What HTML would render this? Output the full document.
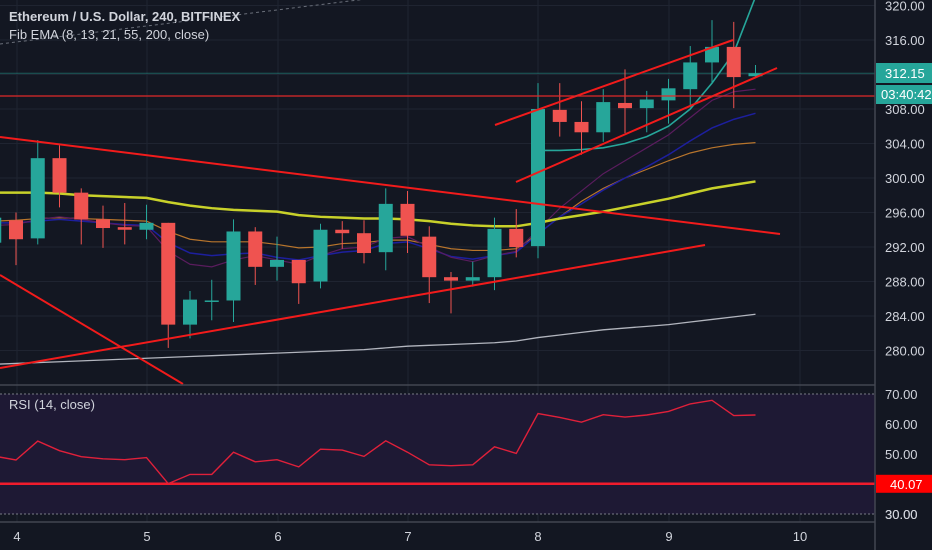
<!DOCTYPE html>
<html><head><meta charset="utf-8"><style>
body{margin:0;background:#131722;width:932px;height:550px;overflow:hidden;font-family:"Liberation Sans",sans-serif}
svg{display:block}
</style></head><body>
<svg id="c" width="932" height="550">
<rect x="0" y="0" width="932" height="550" fill="#131722"/>
<g id="grid"></g>
<rect x="0" y="394" width="875" height="120" fill="#1e1934"/>
<g id="main"></g>
<g id="rsi"></g>
<g id="axes"></g>
</svg>
<script>
const dates=["4","5","6","7","8","9","10"];
const dateX=[17,147,278,408,538,669,800];
const priceTicks=[320,316,308,304,300,296,292,288,284,280];
const rsiTicks=[70,60,50,30];
const opens=[292.5,295.1,293.0,302.3,298.3,295.2,294.3,294.0,294.8,283.0,285.8,285.8,293.8,289.7,290.5,288.0,294.0,293.6,291.4,297.0,293.2,288.5,288.1,288.5,294.1,292.1,307.9,306.5,305.3,308.7,308.1,309.0,310.3,313.4,315.2,311.8];
const closes=[295.4,292.9,302.3,298.3,295.2,294.2,294.0,294.8,283.0,285.9,285.8,293.8,289.7,290.5,287.8,294.0,293.6,291.3,297.0,293.3,288.5,288.1,288.5,294.1,292.0,308.0,306.5,305.3,308.8,308.1,309.1,310.4,313.4,315.2,311.7,312.15];
const highs=[296.5,296.0,304.4,303.8,298.8,296.8,297.1,296.9,294.8,286.9,288.2,295.2,294.3,293.2,290.5,294.7,295.0,295.1,298.8,298.5,294.4,289.1,290.3,295.4,296.4,311.0,311.0,308.9,310.3,312.6,310.1,311.5,315.3,318.3,318.1,313.1];
const lows=[291.5,289.9,292.3,296.6,292.3,291.9,292.3,292.9,280.3,281.4,283.5,283.3,287.6,288.1,285.4,287.2,291.8,290.1,289.3,291.3,285.5,284.3,287.4,287.0,290.8,290.7,304.8,302.7,304.2,305.2,305.3,306.3,308.2,311.0,308.1,311.7];
const ema8=[294.5,294.6,295.2,295.5,295.2,294.8,294.5,294.4,291.5,290,289.7,290.5,291,290.5,290,291,291.8,292,293,293.2,292,290.8,290.3,291,291.5,294,296.5,298.5,300.5,302,303.5,305,307,309,310,310.3];
const ema13=[294.8,294.8,295,295.2,295,294.8,294.6,294.5,292.5,291.3,291,291.2,291.3,290.8,290.5,291,291.4,291.6,292.4,292.6,291.8,290.9,290.6,291,291.4,293.5,295.5,297,298.6,300,301.3,302.7,304.3,305.8,306.8,307.5];
const ema21=[295,295.1,295.3,295.4,295.3,295.2,295.1,295.0,293.8,292.9,292.6,292.6,292.6,292.3,291.9,292.0,292.4,292.5,292.8,292.8,292.3,291.8,291.6,291.6,291.8,293.5,295.5,297.3,298.8,300.0,301.0,302.0,302.9,303.5,303.9,304.1];
const ema55=[298.3,298.3,298.3,298.2,298.0,297.9,297.8,297.7,297.2,296.8,296.5,296.3,296.2,296.1,295.7,295.5,295.4,295.3,295.3,295.2,295.0,294.7,294.5,294.4,294.4,294.8,295.3,295.7,296.1,296.6,297.1,297.6,298.2,298.8,299.2,299.6];
const ema200=[278.4,278.5,278.6,278.7,278.8,278.9,279.0,279.1,279.2,279.3,279.4,279.5,279.6,279.7,279.8,279.9,280.0,280.1,280.3,280.5,280.6,280.7,280.8,280.9,281.1,281.5,281.8,282.1,282.4,282.6,282.8,283.0,283.3,283.6,283.9,284.2];
const tealStart=25;
const emaTeal=[303.2,303.2,303.3,303.5,304,304.8,306,308,311,314.5,321];
const rsiVals=[49.3,48,54.3,51.1,49.1,48.4,48.1,48.8,40.1,43.2,43.2,50.6,47.4,48.1,45.7,51.6,51.3,49.2,54.4,50.6,46.4,46.1,46.4,52.4,50.2,63.5,62.2,60.6,63.1,62.3,63,64.2,66.7,67.9,62.8,63.0];
const NS="http://www.w3.org/2000/svg";
const py=p=>40+(316-p)*8.625;
const cx=k=>-5.75+k*21.75;
const ry=v=>394+(70-v)*3;
function mk(parent,tag,attrs){const e=document.createElementNS(NS,tag);for(const k in attrs)e.setAttribute(k,attrs[k]);parent.appendChild(e);return e;}
const G=document.getElementById('grid'),M=document.getElementById('main'),R=document.getElementById('rsi'),A=document.getElementById('axes');
priceTicks.concat([312]).forEach(p=>{const l=mk(G,'line',{x1:0,x2:875,y1:py(p),y2:py(p),stroke:'#1f2431','stroke-width':1});

});
[60,50].forEach(v=>{const l=mk(G,'line',{x1:0,x2:875,y1:ry(v),y2:ry(v),stroke:'#2a2540','stroke-width':1});

});
dateX.forEach(x=>{const l=mk(G,'line',{x1:x,x2:x,y1:0,y2:522,stroke:'#1f2431','stroke-width':1});

});
const defs=mk(document.getElementById('c'),'defs',{});
const cp=mk(defs,'clipPath',{id:'mc'});mk(cp,'rect',{x:0,y:0,width:875,height:385});
M.setAttribute('clip-path','url(#mc)');
const dg=mk(M,'line',{x1:0,y1:44,x2:480,y2:-15,stroke:'#6a6f7a','stroke-width':1,'stroke-dasharray':'3,3'});


const pl=mk(M,'line',{x1:0,x2:875,y1:py(312.15),y2:py(312.15),stroke:'#26a69a','stroke-width':1,'stroke-opacity':0.5});


function series(arr,start,color,w,name){const pts=arr.map((v,i)=>cx(i+start)+','+py(v)).join(' ');const e=mk(M,'polyline',{points:pts,fill:'none',stroke:color,'stroke-width':w});

}
series(ema200,0,'#b2b5be',1.3,'ema-200');
series(ema21,0,'#b8752c',1.2,'ema-21');
series(ema13,0,'#1d1f9e',1.5,'ema-13');
series(ema8,0,'#5a1c5e',1.2,'ema-8');
series(ema55,0,'#c8d12a',2.5,'ema-55');
series(emaTeal,tealStart,'#26a69a',1.6,'ema-teal');
opens.forEach((o,i)=>{const c=closes[i],up=c>=o,col=up?'#26a69a':'#ef5350',x=cx(i);
const g=mk(M,'g',{});


mk(g,'line',{x1:x,x2:x,y1:py(highs[i]),y2:py(lows[i]),stroke:col,'stroke-width':1});
const t=py(Math.max(o,c)),b=py(Math.min(o,c));
mk(g,'rect',{x:x-7,y:t,width:14,height:Math.max(b-t,1.5),fill:col});});
[[0,137,780,234],[0,368,705,245],[0,275,183,384],[495,125,733,40],[516,182,777,68]].forEach(s=>{const l=mk(M,'line',{x1:s[0],y1:s[1],x2:s[2],y2:s[3],stroke:'#f21b1b','stroke-width':2});

});
const hl=mk(M,'line',{x1:0,x2:875,y1:96,y2:96,stroke:'#e0282a','stroke-width':1.2});


[70,30].forEach(v=>{const l=mk(R,'line',{x1:0,x2:875,y1:ry(v),y2:ry(v),stroke:'#787b86','stroke-width':1,'stroke-dasharray':'2,2'});

});
const rl=mk(R,'line',{x1:0,x2:875,y1:ry(40.07),y2:ry(40.07),stroke:'#f01c2c','stroke-width':2.5});


const rp=mk(R,'polyline',{points:rsiVals.map((v,i)=>cx(i)+','+ry(v)).join(' '),fill:'none',stroke:'#e0203a','stroke-width':1.4});


[[0,385,875,385],[0,522,875,522],[875,0,875,550]].forEach(s=>{const l=mk(A,'line',{x1:s[0],y1:s[1],x2:s[2],y2:s[3],stroke:'#434651','stroke-width':1.5});

});
function txt(p,x,y,s,opt){const t=mk(p,'text',Object.assign({x:x,y:y,fill:'#d1d4dc','font-size':13},opt||{}));t.textContent=s;return t;}
priceTicks.forEach(p=>{const t=txt(A,885,py(p)+5,p.toFixed(2));

});
rsiTicks.concat([30]).forEach(v=>{const t=txt(A,885,ry(v)+5,v.toFixed(2));

});
dates.forEach((d,i)=>{const t=txt(A,dateX[i],541,d,{'text-anchor':'middle'});

});
const b1=mk(A,'rect',{x:876,y:63,width:56,height:20,fill:'#26a69a'});


txt(A,885,78,'312.15',{fill:'#fff'});
const b2=mk(A,'rect',{x:876,y:85,width:56,height:19,fill:'#26a69a'});


txt(A,881,99,'03:40:42',{fill:'#fff'});
const b3=mk(A,'rect',{x:876,y:ry(40.07)-9,width:56,height:18,fill:'#f00'});


txt(A,890,ry(40.07)+5,'40.07',{fill:'#fff'});
const t1=txt(A,9,21,'Ethereum / U.S. Dollar, 240, BITFINEX',{'font-weight':'bold'});


const t2=txt(A,9,39,'Fib EMA (8, 13, 21, 55, 200, close)');


const t3=txt(A,9,409,'RSI (14, close)');


</script>
</body></html>
